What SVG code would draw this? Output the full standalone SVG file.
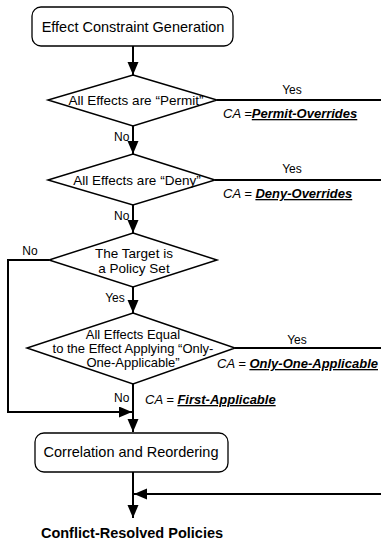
<svg xmlns="http://www.w3.org/2000/svg" width="381" height="542" viewBox="0 0 381 542">
<style>
.box{fill:#fff;stroke:#000;stroke-width:1.3}
.dia{fill:#fff;stroke:#000;stroke-width:1.5}
.ln{fill:none;stroke:#000;stroke-width:2}
.t{font-family:"Liberation Sans",Arial,sans-serif;fill:#000}
.bt{font-size:14.5px}
.dt{font-size:13.5px}
.d4{font-size:13px}
.lb{font-size:12px}
.ca{font-size:13px;font-style:italic}
.em{font-weight:bold;text-decoration:underline}
</style>
<defs>
<marker id="ah" markerUnits="userSpaceOnUse" markerWidth="14" markerHeight="12" refX="13" refY="5.5" orient="auto">
<path d="M0,0 L13,5.5 L0,11 Z" fill="#000"/>
</marker>
</defs>
<g id="connectors">
<path class="ln" d="M133,46 V75" marker-end="url(#ah)"/>
<path class="ln" d="M133,126 V154" marker-end="url(#ah)"/>
<path class="ln" d="M133,205 V233" marker-end="url(#ah)"/>
<path class="ln" d="M133,287 V313" marker-end="url(#ah)"/>
<path class="ln" d="M133,384 V432" marker-end="url(#ah)"/>
<path class="ln" d="M49,260 H8 V412 H132" marker-end="url(#ah)"/>
<path class="ln" d="M217,100 H381"/>
<path class="ln" d="M215,180 H381"/>
<path class="ln" d="M235,348 H381"/>
<path class="ln" d="M133,472 V518" marker-end="url(#ah)"/>
<path class="ln" d="M381,494 H134" marker-end="url(#ah)"/>
<text class="t lb" x="292" y="94" text-anchor="middle">Yes</text>
<text class="t lb" x="114" y="141">No</text>
<text class="t lb" x="292" y="173" text-anchor="middle">Yes</text>
<text class="t lb" x="114" y="220">No</text>
<text class="t lb" x="30" y="255" text-anchor="middle">No</text>
<text class="t lb" x="115" y="302" text-anchor="middle">Yes</text>
<text class="t lb" x="297" y="344" text-anchor="middle">Yes</text>
<text class="t lb" x="114" y="402">No</text>
<text class="t ca" x="223" y="118">CA =<tspan class="em">Permit-Overrides</tspan></text>
<text class="t ca" x="223" y="198">CA = <tspan class="em">Deny-Overrides</tspan></text>
<text class="t ca" x="217" y="368">CA = <tspan class="em">Only-One-Applicable</tspan></text>
<text class="t ca" x="145" y="404">CA = <tspan class="em">First-Applicable</tspan></text>
</g>
<g id="n1">
<rect class="box" x="32" y="7" width="201" height="39" rx="9"/>
<text class="t bt" x="133" y="31.5" text-anchor="middle">Effect Constraint Generation</text>
</g>
<g id="d1">
<polygon class="dia" points="133,75 217,100 133,126 48,100"/>
<text class="t dt" x="136" y="105" text-anchor="middle">All Effects are “Permit”</text>
</g>
<g id="d2">
<polygon class="dia" points="133,154 215,180 133,205 48,180"/>
<text class="t dt" x="137" y="185" text-anchor="middle">All Effects are “Deny”</text>
</g>
<g id="d3">
<polygon class="dia" points="133,233 217,260 133,287 49,260"/>
<text class="t dt" x="134" y="258" text-anchor="middle">The Target is</text>
<text class="t dt" x="134" y="273" text-anchor="middle">a Policy Set</text>
</g>
<g id="d4">
<polygon class="dia" points="133,313 235,348 133,384 27,348"/>
<text class="t d4" x="133" y="339" text-anchor="middle">All Effects Equal</text>
<text class="t d4" x="133" y="353" text-anchor="middle">to the Effect Applying “Only-</text>
<text class="t d4" x="133" y="367" text-anchor="middle">One-Applicable”</text>
</g>
<g id="n2">
<rect class="box" x="35" y="433" width="193" height="39" rx="9"/>
<text class="t bt" x="131" y="457" text-anchor="middle">Correlation and Reordering</text>
</g>
<g id="out">
<text class="t bt" x="132" y="538" text-anchor="middle" font-weight="bold">Conflict-Resolved Policies</text>
</g>
</svg>
